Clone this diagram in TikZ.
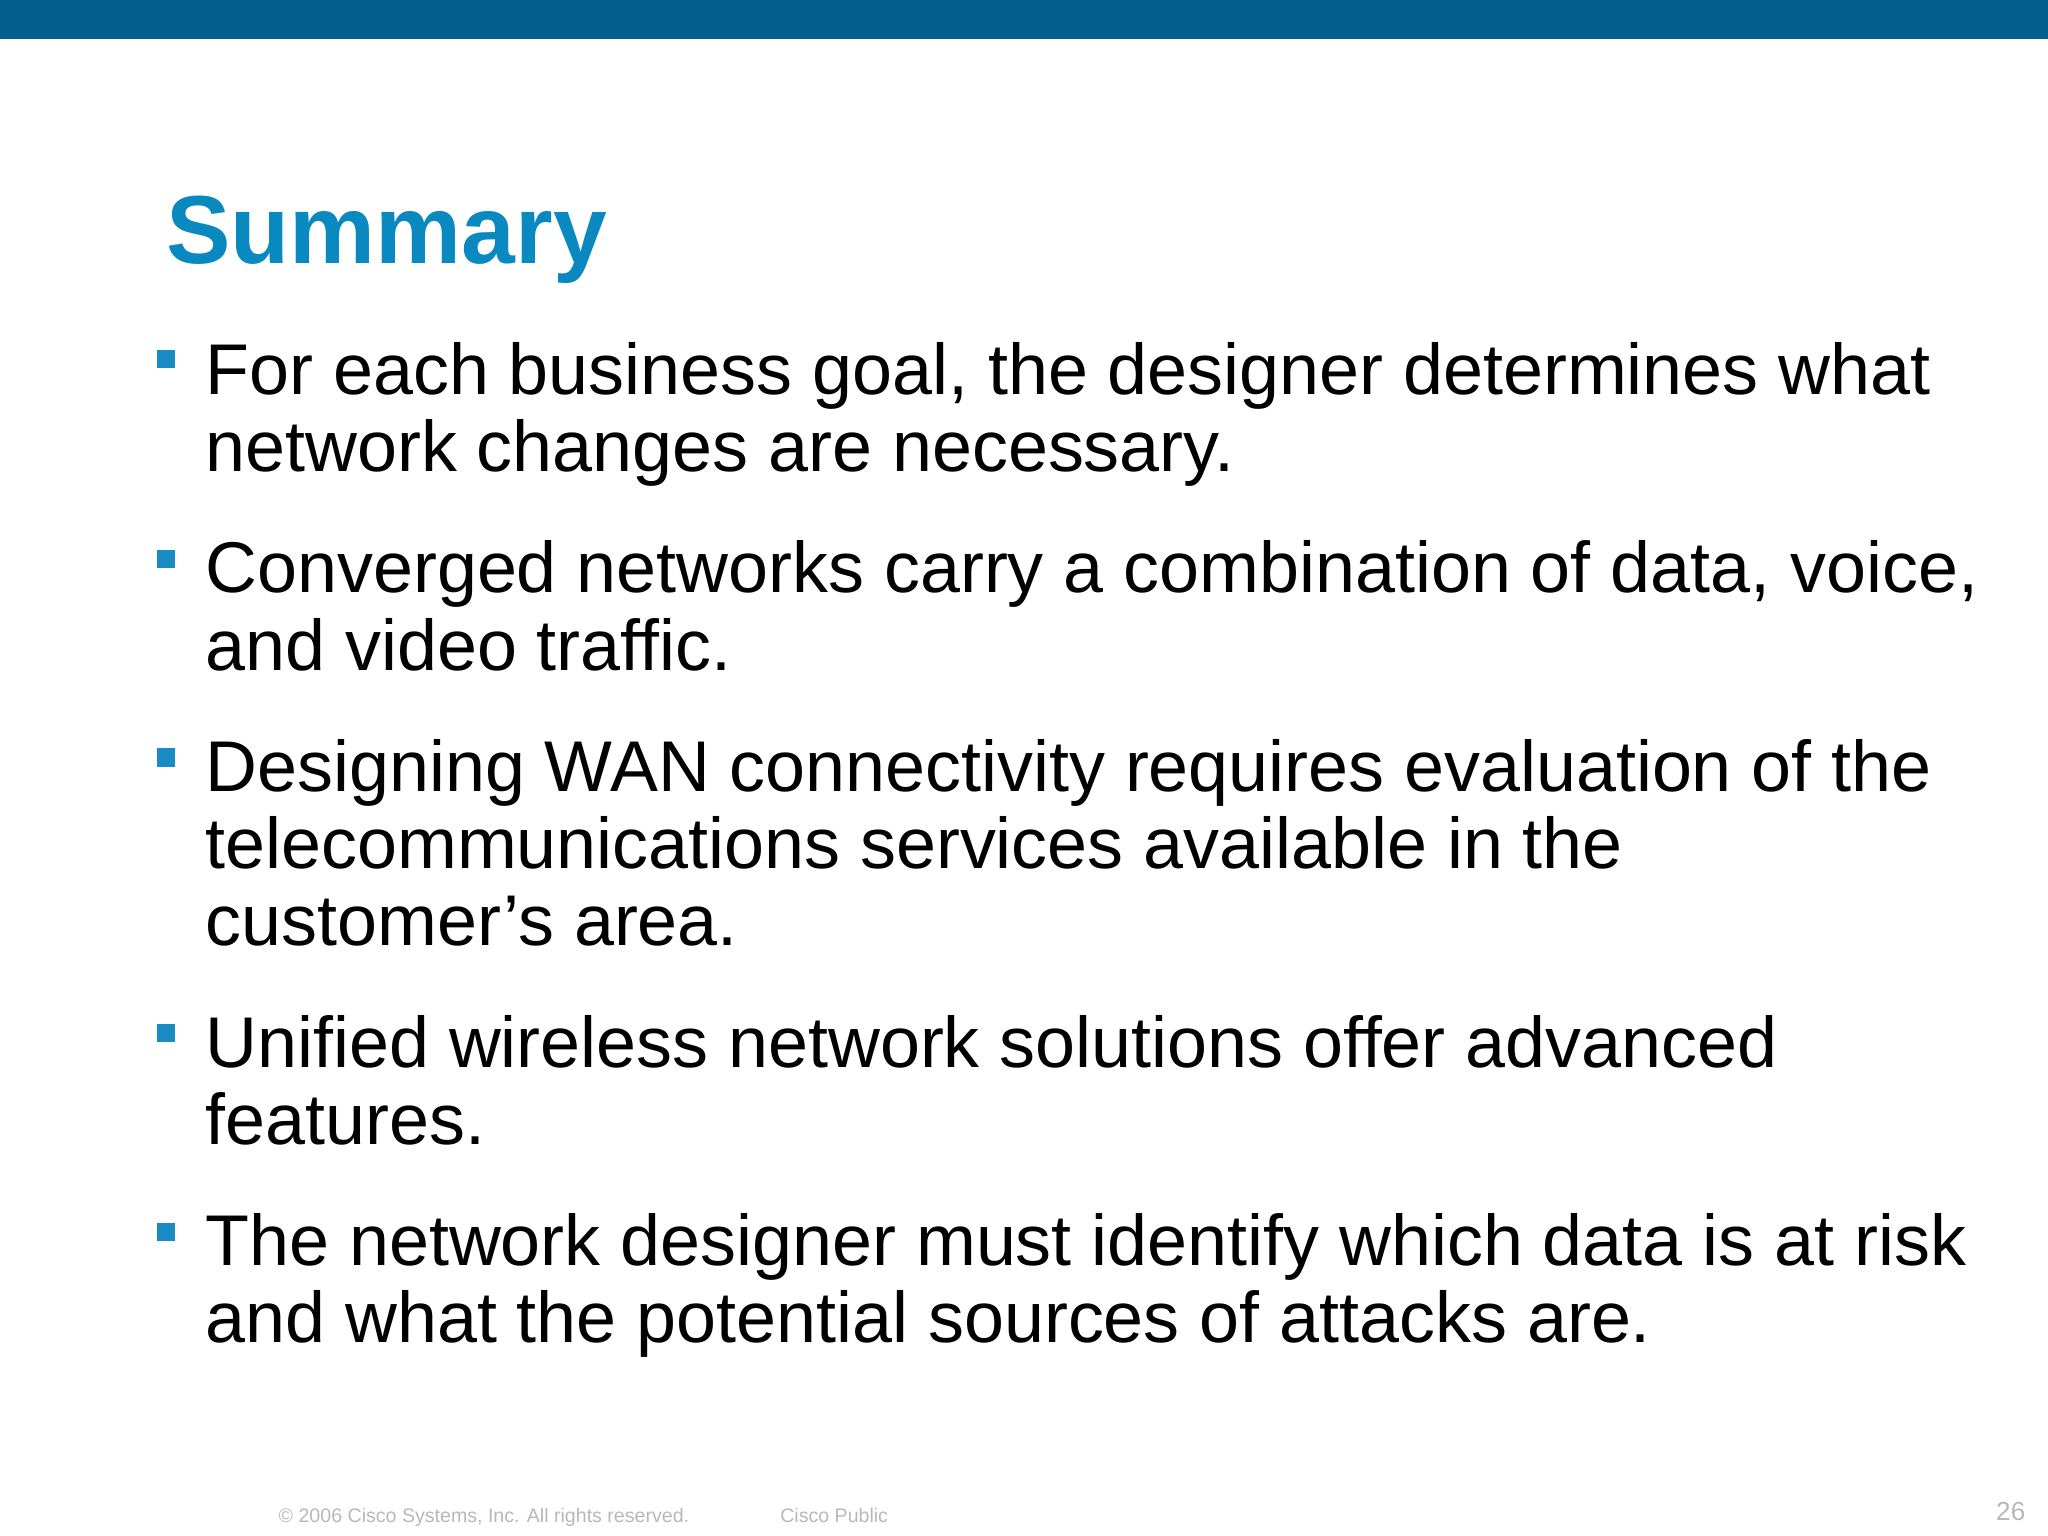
\documentclass[tikz,border=0pt]{standalone}
\usepackage{fontspec}
\setmainfont{Liberation Sans}
\definecolor{barblue}{HTML}{045D8C}
\definecolor{titleblue}{HTML}{0A88C0}
\definecolor{bulletblue}{HTML}{1A8CC4}
\definecolor{footgray}{HTML}{B8B8B8}
\begin{document}
\begin{tikzpicture}[x=0.5pt,y=-0.5pt,
  line/.style={anchor=base west,inner sep=0pt,font=\fontsize{27.5}{30}\selectfont},
  bul/.style={fill=bulletblue,minimum size=7pt,inner sep=0pt},
  foot/.style={anchor=base west,inner sep=0pt,text=footgray,font=\fontsize{7.5}{9}\selectfont}]
\useasboundingbox (0,0) rectangle (1568,1176);
\fill[barblue] (0,0) rectangle (1568,30);
\node[anchor=base west,inner sep=0pt,text=titleblue,font=\fontsize{37}{40}\selectfont\bfseries] (title) at (127,202) {Summary};
\foreach \y/\n in {275/b1,428/b2,580/b3,791/b4,943/b5}{\node[bul] (\n) at (127,\y) {};}
\node[line] (l1) at (157,302) {For each business goal, the designer determines what};
\node[line] (l2) at (157,361) {network changes are necessary.};
\node[line] (l3) at (157,454) {Converged networks carry a combination of data, voice,};
\node[line] (l4) at (157,513) {and video traffic.};
\node[line] (l5) at (157,606) {Designing WAN connectivity requires evaluation of the};
\node[line] (l6) at (157,665) {telecommunications services available in the};
\node[line] (l7) at (157,724) {customer’s area.};
\node[line] (l8) at (157,817) {Unified wireless network solutions offer advanced};
\node[line] (l9) at (157,876) {features.};
\node[line] (l10) at (157,969) {The network designer must identify which data is at risk};
\node[line] (l11) at (157,1028) {and what the potential sources of attacks are.};
\node[foot] (f1) at (213,1166) {© 2006 Cisco Systems, Inc. All rights reserved.};
\node[foot] (f2) at (597,1166) {Cisco Public};
\node[anchor=base east,inner sep=0pt,text=footgray,font=\fontsize{10}{12}\selectfont] (f3) at (1551,1164) {26};
\end{tikzpicture}
\end{document}
